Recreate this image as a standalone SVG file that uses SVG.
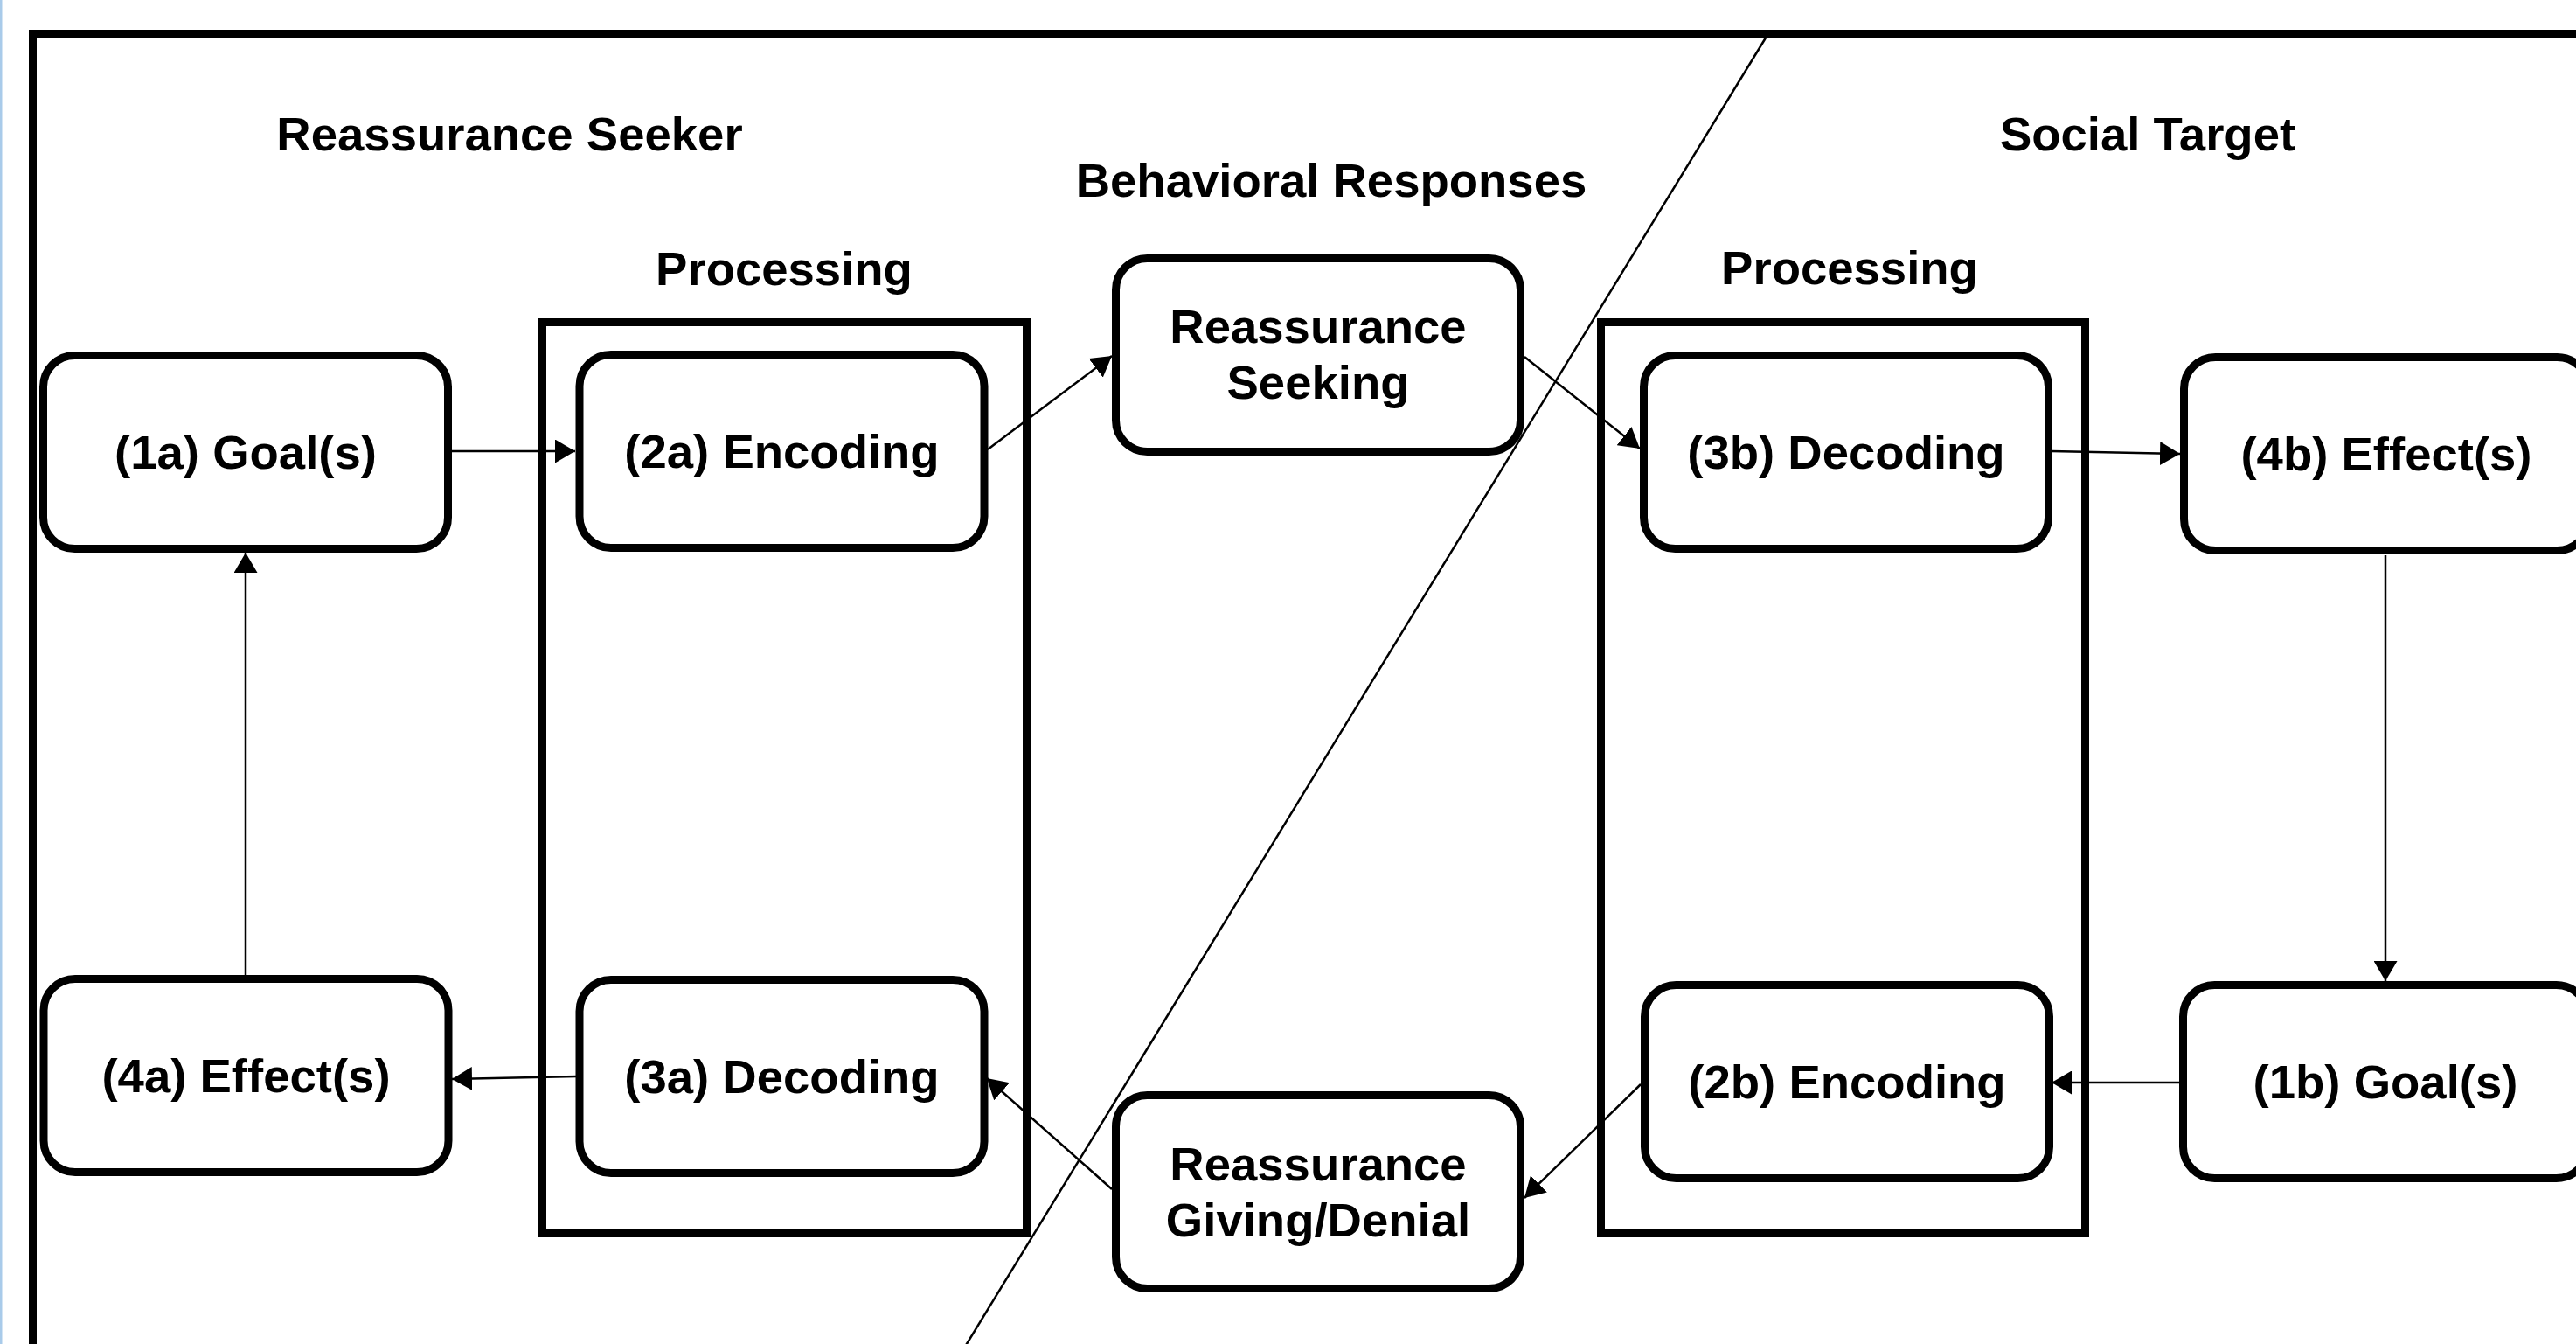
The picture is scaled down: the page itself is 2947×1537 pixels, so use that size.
<svg xmlns="http://www.w3.org/2000/svg" width="2947" height="1537" viewBox="0 0 2947 1537">
<defs>
<style>
.node rect{fill:#fff;stroke:#000;stroke-width:9}
.proc{fill:none;stroke:#000;stroke-width:9}
.t{font-family:"Liberation Sans",Arial,Helvetica,sans-serif;font-weight:bold;font-size:54.5px;fill:#000;text-anchor:middle}
.c{fill:none;stroke:#000;stroke-width:2.5;marker-end:url(#ah)}
</style>
<marker id="ah" markerUnits="userSpaceOnUse" markerWidth="23" markerHeight="27" refX="23" refY="13.5" orient="auto">
<path d="M0,0 L23,13.5 L0,27 Z" fill="#000"/>
</marker>
</defs>
<rect x="0" y="0" width="2947" height="1537" fill="#fff"/>
<rect x="0" y="0" width="2.5" height="1537" fill="#a9cbea"/>
<rect id="frame" x="37.5" y="38.5" width="3000" height="1600" fill="none" stroke="#000" stroke-width="9"/>

<g id="labels">
<text class="t" x="583" y="172">Reassurance Seeker</text>
<text class="t" x="1523" y="225">Behavioral Responses</text>
<text class="t" x="2457" y="172">Social Target</text>
<text class="t" x="897" y="326">Processing</text>
<text class="t" x="2116" y="325">Processing</text>
</g>

<g id="processing-seeker"><rect class="proc" x="620.5" y="368.5" width="554" height="1042"/></g>
<g id="processing-target"><rect class="proc" x="1831.5" y="368.5" width="554" height="1042"/></g>

<g id="n1a" class="node"><rect x="49.5" y="406.5" width="463" height="221" rx="36"/><text class="t" x="281" y="536">(1a) Goal(s)</text></g>
<g id="n2a" class="node"><rect x="663" y="405.5" width="463" height="221" rx="36"/><text class="t" x="894.5" y="535">(2a) Encoding</text></g>
<g id="nRS" class="node"><rect x="1276.5" y="295.5" width="463" height="221" rx="36"/><text class="t" x="1508" y="392">Reassurance</text><text class="t" x="1508" y="456">Seeking</text></g>
<g id="n3b" class="node"><rect x="1880.5" y="406.5" width="463" height="221" rx="36"/><text class="t" x="2112" y="536">(3b) Decoding</text></g>
<g id="n4b" class="node"><rect x="2498.5" y="408.5" width="463" height="221" rx="36"/><text class="t" x="2730" y="538">(4b) Effect(s)</text></g>
<g id="n1b" class="node"><rect x="2497.5" y="1126.5" width="463" height="221" rx="36"/><text class="t" x="2729" y="1256">(1b) Goal(s)</text></g>
<g id="n2b" class="node"><rect x="1881.5" y="1126.5" width="463" height="221" rx="36"/><text class="t" x="2113" y="1256">(2b) Encoding</text></g>
<g id="n3a" class="node"><rect x="663" y="1120.5" width="463" height="221" rx="36"/><text class="t" x="894.5" y="1250">(3a) Decoding</text></g>
<g id="n4a" class="node"><rect x="50" y="1119.5" width="463" height="221" rx="36"/><text class="t" x="281.5" y="1249">(4a) Effect(s)</text></g>
<g id="nRGD" class="node"><rect x="1276.5" y="1252.5" width="463" height="221" rx="36"/><text class="t" x="1508" y="1350">Reassurance</text><text class="t" x="1508" y="1414">Giving/Denial</text></g>

<g id="connectors">
<path class="c" d="M517,516 L658,516"/>
<path class="c" d="M1130,514 L1272,407"/>
<path class="c" d="M1744,408 L1876,513"/>
<path class="c" d="M2347,516 L2494,519"/>
<path class="c" d="M2729,635 L2729,1122"/>
<path class="c" d="M2493,1238 L2347,1238"/>
<path class="c" d="M1877,1240 L1744,1370"/>
<path class="c" d="M1272,1360 L1129,1233"/>
<path class="c" d="M660,1231 L517,1234"/>
<path class="c" d="M281,1115 L281,632"/>
</g>

<g id="divider"><path d="M2022,40 L1104,1540" stroke="#000" stroke-width="2.5" fill="none"/></g>
</svg>
